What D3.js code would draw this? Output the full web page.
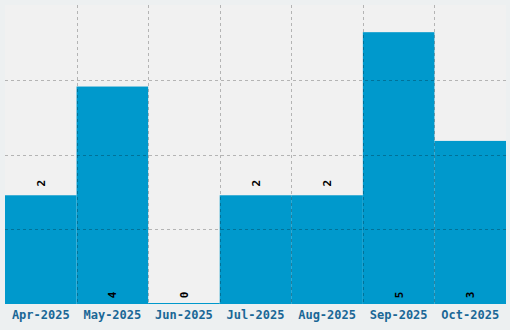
<!DOCTYPE html>
<html>
<head>
<meta charset="utf-8">
<script src="https://cdn.jsdelivr.net/npm/d3@7"></script>
<style>
  body { margin: 0; background: #edf0f1; }
  svg text { font-family: "DejaVu Sans Mono", monospace; font-weight: bold; }
</style>
</head>
<body>
<div class="vis"></div>
<script>
// data
var months  = ["Apr-2025", "May-2025", "Jun-2025", "Jul-2025", "Aug-2025", "Sep-2025", "Oct-2025"];
var counts  = [2, 4, 0, 2, 2, 5, 3];
var labelAt = ["above", "base", "base", "above", "above", "base", "base"];

var width = 510, height = 330;
var margin = {top: 5, right: 4, bottom: 26, left: 5};
var w = width - margin.left - margin.right,
    h = height - margin.top - margin.bottom;

var svg = d3.select("div.vis").append("svg")
            .attr("width", width)
            .attr("height", height);

var g = svg.append("g").attr("transform", "translate(" + margin.left + "," + margin.top + ")");

var x = d3.scaleBand().domain(months).range([0, w]).padding(0);
var y = d3.scaleLinear().domain([0, 5.5]).range([h, 0]);

// plot background
g.append("rect")
 .attr("width", w).attr("height", h)
 .attr("fill", "#f1f1f1");

// bars
var rows = months.map(function(m, i) { return {month: m, count: counts[i], at: labelAt[i]}; });

g.selectAll("rect.bar")
 .data(rows)
 .enter()
 .append("rect")
   .attr("class", "bar")
   .attr("x", function(d) { return x(d.month); })
   .attr("width", x.bandwidth())
   .attr("y", function(d) { return Math.min(y(d.count), h - 1); })
   .attr("height", function(d) { return Math.max(h - y(d.count), 1); })
   .attr("fill", "#0099cc");

// grid, drawn over the bars
var gridY = [1.375, 2.75, 4.125];
g.selectAll("line.gy")
 .data(gridY)
 .enter()
 .append("line")
   .attr("x1", 0).attr("x2", w)
   .attr("y1", function(d) { return Math.round(y(d)) + 0.5; })
   .attr("y2", function(d) { return Math.round(y(d)) + 0.5; })
   .attr("stroke", "rgba(0,0,0,0.25)")
   .attr("stroke-dasharray", "3,3");

g.selectAll("line.gx")
 .data(months.slice(1))
 .enter()
 .append("line")
   .attr("x1", function(d) { return Math.round(x(d)) + 0.5; })
   .attr("x2", function(d) { return Math.round(x(d)) + 0.5; })
   .attr("y1", 0).attr("y2", h)
   .attr("stroke", "rgba(0,0,0,0.25)")
   .attr("stroke-dasharray", "3,3");

// value labels, rotated
g.selectAll("text.val")
 .data(rows)
 .enter()
 .append("text")
   .attr("class", "val")
   .attr("transform", function(d) {
       var cx = x(d.month) + x.bandwidth() / 2;
       var cy = d.at === "above" ? y(d.count) - 12 : h - 9;
       return "translate(" + (cx + 4) + "," + cy + ") rotate(-90)";
   })
   .attr("text-anchor", "middle")
   .style("font-size", "11px")
   .style("fill", "#000")
   .text(function(d) { return d.count; });

// x axis labels
var xAxis = d3.axisBottom(x).tickSize(0).tickPadding(6);
var ax = g.append("g")
          .attr("transform", "translate(0," + h + ")")
          .call(xAxis);
ax.select(".domain").remove();
ax.selectAll("text")
  .style("font-size", "12px")
  .style("fill", "#1a6796");
</script>
</body>
</html>
